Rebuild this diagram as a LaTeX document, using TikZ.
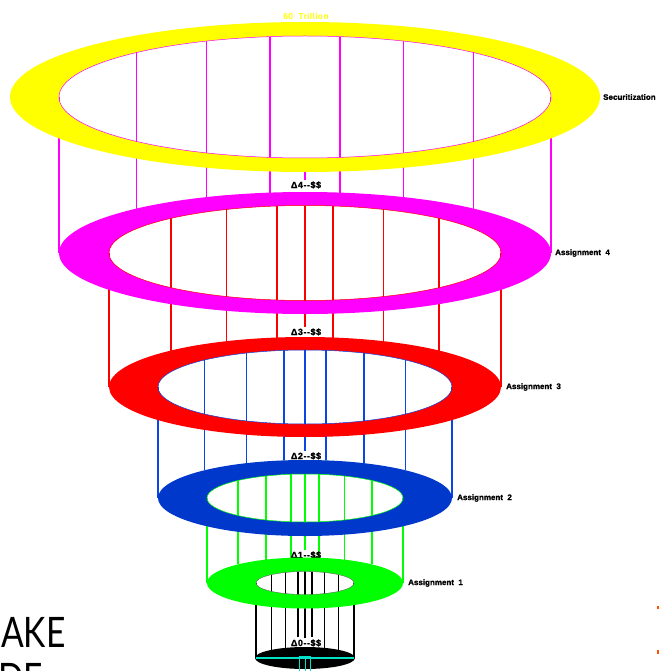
\documentclass[tikz,border=0pt]{standalone}
\usepackage{fontspec}
\setmainfont{Liberation Sans}
\newfontfamily\thinfont{Lato}
\usepackage{graphicx}
\definecolor{pyellow}{RGB}{255,255,0}
\definecolor{pmagenta}{RGB}{255,0,255}
\definecolor{pred}{RGB}{255,0,0}
\definecolor{ringblue}{RGB}{0,56,204}
\definecolor{lineblue}{RGB}{10,70,230}
\definecolor{ltgreen}{RGB}{0,255,0}
\definecolor{cyanline}{RGB}{0,225,200}
\definecolor{edgeorange}{RGB}{255,80,0}
\newcommand\etop[4]{\pgfmathsetmacro\ey{#1-#2*sqrt(max(0,1-(#4/#3)*(#4/#3)))}}
% #1 color, #2 cyU, #3 ryU(inner), #4 rxU(inner), #5 cyL, #6 ryL(outer), #7 rxL(outer), #8 fractions
\newcommand\levellines[8]{%
  \foreach \f in {#8}{%
    \pgfmathsetmacro\mydx{\f*#7}%
    \etop{#2}{#3}{#4}{\mydx}\let\ys\ey
    \etop{#5}{#6}{#7}{\mydx}\let\ye\ey
    \draw[#1, vline] (305+\mydx,\ys) -- (305+\mydx,\ye);
  }}
\tikzset{
  vline/.style={line width=1.4pt},
  lbl/.style={anchor=west, inner sep=0pt, font=\bfseries\fontsize{8}{9}\selectfont\addfontfeature{FakeBold=1.2}, text=black},
  dlbl/.style={inner sep=1pt, font=\bfseries\fontsize{9}{10}\selectfont\addfontfeature{LetterSpace=6,FakeBold=1.2}, text=black},
}
\begin{document}
\begin{tikzpicture}[x=1pt,y=-1pt]
\useasboundingbox (0,0) rectangle (659,671);
\clip (0,0) rectangle (659,671);
% ---------- vertical lines ----------
\levellines{pmagenta}{97}{61}{246}{253}{61}{246}{-1,-0.684,-0.4,-0.143,0.143,0.4,0.684,1}
\levellines{pred}{253}{47.5}{196}{387}{50}{196}{-1,-0.684,-0.4,-0.143,0.143,0.4,0.684,1}
\levellines{lineblue}{387}{37}{147}{498}{38}{147}{-1,-0.684,-0.4,-0.143,0.143,0.4,0.684,1}
\levellines{ltgreen}{498}{24}{98}{583}{25.5}{98}{-1,-0.684,-0.4,-0.143,0.143,0.4,0.684,1}
% green kinks
\foreach \s in {-1,1}{
  \etop{498}{38}{147}{21}\let\ya\ey
  \etop{498}{24}{98}{14}\let\yb\ey
  \draw[ltgreen, vline] (305+\s*21,\ya) -- (305+\s*14,\yb);
}
% black lines
\levellines{black}{583}{11.5}{49}{658}{11}{49}{-1,-0.684,-0.4,0.4,0.684,1}
\foreach \s in {-1,1}{
  \etop{583}{11.5}{49}{7}\let\ya\ey
  \draw[black, vline] (305+\s*7,\ya) -- (305+\s*7,637);
  \etop{583}{25.5}{98}{14}\let\ya\ey
  \draw[black, vline] (305+\s*14,\ya) -- (305+\s*7,\ey);
}
% ---------- labels for levels ----------
\node[dlbl] (d4) at (306,185) {Δ4-{}-\$\$};
\node[dlbl] (d3) at (306,332) {Δ3-{}-\$\$};
\node[dlbl] (d2) at (306,456) {Δ2-{}-\$\$};
\node[dlbl] (d1) at (306,555) {Δ1-{}-\$\$};
\node[dlbl] (d0) at (306,643) {Δ0-{}-\$\$};
\coordinate (m0) at (305,165);
\coordinate (r0) at (305,205.5);
\draw[pmagenta, vline] (m0) -- (d4.north -| m0);
\draw[pred, vline] (r0) -- (d3.north -| r0);
\draw[lineblue, vline] (d3.south -| r0) -- (d2.north -| r0);
\draw[ltgreen, vline] (d2.south -| r0) -- (d1.north -| r0);
\draw[black, vline] (d1.south -| r0) -- (d0.north -| r0);
% ---------- rings ----------
\fill[pyellow, even odd rule] (305,97) ellipse [x radius=295pt, y radius=75pt] (305,97) ellipse [x radius=246pt, y radius=61pt];
\draw[pmagenta, line width=0.5pt] (305,97) ellipse [x radius=246pt, y radius=61pt];
\fill[pmagenta, even odd rule] (305,253) ellipse [x radius=246pt, y radius=61pt] (305,253) ellipse [x radius=196pt, y radius=47.5pt];
\draw[pred, line width=0.5pt] (305,253) ellipse [x radius=196pt, y radius=47.5pt];
\fill[pred, even odd rule] (305,387) ellipse [x radius=196pt, y radius=50pt] (305,387) ellipse [x radius=147pt, y radius=37pt];
\draw[lineblue, line width=0.5pt] (305,387) ellipse [x radius=147pt, y radius=37pt];
\fill[ringblue, even odd rule] (305,498) ellipse [x radius=147pt, y radius=38pt] (305,498) ellipse [x radius=98pt, y radius=24pt];
\draw[ltgreen, line width=0.5pt] (305,498) ellipse [x radius=98pt, y radius=24pt];
\fill[ltgreen, even odd rule] (305,583) ellipse [x radius=98pt, y radius=25.5pt] (305,583) ellipse [x radius=49pt, y radius=11.5pt];
\draw[black!60, line width=0.4pt] (305,583) ellipse [x radius=49pt, y radius=11.5pt];
% bottom black disc
\fill[black] (305,658) ellipse [x radius=50pt, y radius=11pt];
\draw[cyanline, line width=1.2pt] (256,658) -- (354,658);
\draw[cyanline, line width=0.9pt] (299.5,671) -- (299.5,656) -- (310.5,656) -- (310.5,671);
\draw[cyanline, line width=0.9pt] (305,656) -- (305,671);
% ---------- side labels ----------
\node[lbl] (sec) at (603,97) {Securitization};
\node[lbl] (a4) at (555,253) {Assignment\ \ 4};
\node[lbl] (a3) at (506,387) {Assignment\ \ 3};
\node[lbl] (a2) at (457,498) {Assignment\ \ 2};
\node[lbl] (a1) at (408,583) {Assignment\ \ 1};
\node[inner sep=0pt, text=pyellow, font=\bfseries\fontsize{8.5}{9}\selectfont\addfontfeature{LetterSpace=4}] (top) at (306,16) {60\ \ Trillion};
% ---------- partial big text ----------
\node[anchor=base west, inner sep=0pt] (ake) at (1,647) {\scalebox{0.8}[1]{\thinfont\fontsize{42}{50}\selectfont AKE}};
\node[anchor=base west, inner sep=0pt] (de) at (-2,693) {\scalebox{0.8}[1]{\thinfont\fontsize{42}{50}\selectfont DE}};
% edge marks
\fill[edgeorange] (657,606) rectangle (659,609);
\fill[edgeorange] (657,650) rectangle (659,654);
\end{tikzpicture}
\end{document}
